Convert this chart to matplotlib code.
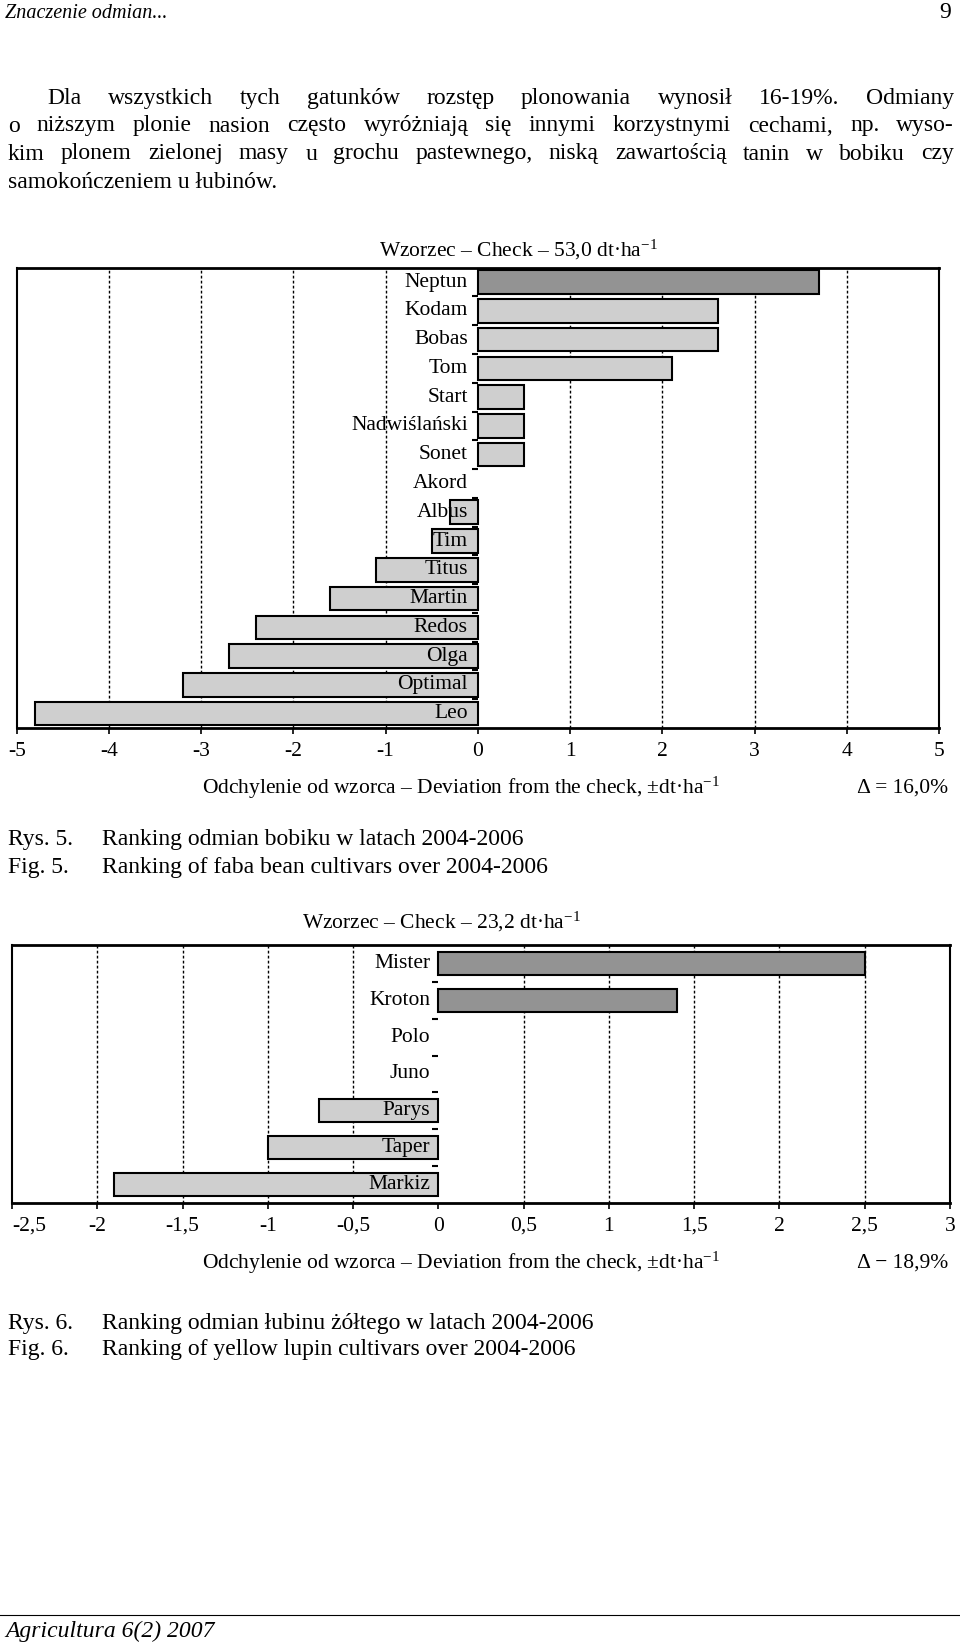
import matplotlib
matplotlib.use('Agg')
import matplotlib.pyplot as plt
from matplotlib.lines import Line2D

plt.rcParams['font.family'] = ['Liberation Serif', 'DejaVu Serif']
plt.rcParams['mathtext.fontset'] = 'custom'
plt.rcParams['mathtext.rm'] = 'Liberation Serif'
plt.rcParams['mathtext.it'] = 'Liberation Serif:italic'

W, H = 960, 1643

# Fig. 5 - faba bean, deviation from the check (dt/ha)
bean_names = ['Neptun', 'Kodam', 'Bobas', 'Tom', 'Start', 'Nadwiślański', 'Sonet',
              'Akord', 'Albus', 'Tim', 'Titus', 'Martin', 'Redos', 'Olga',
              'Optimal', 'Leo']
bean_dev = [3.7, 2.6, 2.6, 2.1, 0.5, 0.5, 0.5, 0.0, -0.3, -0.5, -1.1, -1.6,
            -2.4, -2.7, -3.2, -4.8]
bean_dark = ['Neptun']
bean_ticks = [-5, -4, -3, -2, -1, 0, 1, 2, 3, 4, 5]
bean_tick_labels = ['-5', '-4', '-3', '-2', '-1', '0', '1', '2', '3', '4', '5']

# Fig. 6 - yellow lupin
lupin_names = ['Mister', 'Kroton', 'Polo', 'Juno', 'Parys', 'Taper', 'Markiz']
lupin_dev = [2.5, 1.4, 0.0, 0.0, -0.7, -1.0, -1.9]
lupin_dark = ['Mister', 'Kroton']
lupin_ticks = [-2.5, -2, -1.5, -1, -0.5, 0, 0.5, 1, 1.5, 2, 2.5, 3]
lupin_tick_labels = ['-2,5', '-2', '-1,5', '-1', '-0,5', '0', '0,5', '1',
                     '1,5', '2', '2,5', '3']

DARK = '#939393'
LIGHT = '#cfcfcf'
CHART_FS = 15.5
BODY_FS = 17

fig = plt.figure(figsize=(W / 100, H / 100), dpi=100)


def fx(x):
    return x / W


def fy(y):
    return 1 - y / H


def ftext(x, y, s, **kw):
    kw.setdefault('va', 'center')
    return fig.text(fx(x), fy(y), s, **kw)


def ranking(box, names, dev, dark, ticks, labels, bar_h, off, first_left=False):
    x0, y0, x1, y1 = box
    ax = fig.add_axes([fx(x0), fy(y1), (x1 - x0) / W, (y1 - y0) / H])
    pos = list(range(len(names)))
    colors = [DARK if n in dark else LIGHT for n in names]
    lws = [1.5 if v != 0 else 0 for v in dev]
    ax.barh(pos, dev, height=bar_h, color=colors, edgecolor='black',
            linewidth=lws, zorder=2)
    for t in ticks[1:-1]:
        if t != 0:
            ax.axvline(t, color='black', lw=1.0, ls=(0, (2, 1.6)), zorder=1)
    for i, n in enumerate(names):
        ax.annotate(n, (0, i), xytext=(-off, 0), textcoords='offset pixels',
                    ha='right', va='center', fontsize=CHART_FS, zorder=3)
    ax.set_xlim(ticks[0], ticks[-1])
    ax.set_ylim(len(names) - 0.5, -0.5)
    ax.set_xticks(ticks, labels)
    ax.set_yticks([i + 0.5 for i in range(len(names) - 1)], [])
    ax.spines['left'].set_position(('data', 0))
    ax.spines['left'].set_visible(False)
    ax.spines['top'].set_linewidth(2.0)
    ax.spines['bottom'].set_linewidth(2.0)
    ax.spines['right'].set_linewidth(1.5)
    ax.add_line(Line2D([0, 0], [0, 1], transform=ax.transAxes, color='black',
                       lw=1.5, clip_on=False))
    ax.tick_params(axis='x', direction='out', length=4, width=1.2,
                   labelsize=CHART_FS, pad=6)
    ax.tick_params(axis='y', direction='out', length=4, width=1.5)
    if first_left:
        # the leftmost label sits inside the page edge, as in the print
        ax.get_xticklabels()[0].set_horizontalalignment('left')
    return ax


# header
ftext(5, 13, 'Znaczenie odmian...', fontsize=14.5, style='italic', ha='left')
ftext(951, 13, '9', fontsize=BODY_FS, ha='right')

# justified body text
body = [
    ('Dla wszystkich tych gatunków rozstęp plonowania wynosił 16-19%. Odmiany', 47, 98.5, True),
    ('o niższym plonie nasion często wyróżniają się innymi korzystnymi cechami, np. wyso-', 8, 126, True),
    ('kim plonem zielonej masy u grochu pastewnego, niską zawartością tanin w bobiku czy', 8, 154, True),
    ('samokończeniem u łubinów.', 8, 182, False),
]
renderer = fig.canvas.get_renderer()
right_edge = 954
for line, x, y, just in body:
    if not just:
        ftext(x, y, line, fontsize=BODY_FS, ha='left')
        continue
    words = line.split(' ')
    items = [ftext(0, y, w, fontsize=BODY_FS, ha='left') for w in words]
    widths = [t.get_window_extent(renderer).width for t in items]
    gap = (right_edge - x - sum(widths)) / (len(words) - 1)
    cx = x
    for t, w in zip(items, widths):
        t.set_x(fx(cx))
        cx += w + gap

# Fig. 5
ranking((16.7, 267.7, 939, 728), bean_names, bean_dev, bean_dark,
        bean_ticks, bean_tick_labels, 0.82, 10)
ftext(379, 249.5, r'Wzorzec – Check – 53,0 dt·ha$^{-1}$', fontsize=CHART_FS, ha='left')
ftext(202, 788, r'Odchylenie od wzorca – Deviation from the check, ±dt·ha$^{-1}$',
      fontsize=CHART_FS, ha='left')
ftext(948, 788, 'Δ = 16,0%', fontsize=CHART_FS, ha='right')
ftext(8, 839, 'Rys. 5.', fontsize=BODY_FS, ha='left')
ftext(102, 839, 'Ranking odmian bobiku w latach 2004-2006', fontsize=BODY_FS, ha='left')
ftext(8, 868, 'Fig. 5.', fontsize=BODY_FS, ha='left')
ftext(102, 868, 'Ranking of faba bean cultivars over 2004-2006', fontsize=BODY_FS, ha='left')

# Fig. 6
ranking((12, 945, 950, 1203), lupin_names, lupin_dev, lupin_dark,
        lupin_ticks, lupin_tick_labels, 0.63, 8, first_left=True)
ftext(302, 922, r'Wzorzec – Check – 23,2 dt·ha$^{-1}$', fontsize=CHART_FS, ha='left')
ftext(202, 1263, r'Odchylenie od wzorca – Deviation from the check, ±dt·ha$^{-1}$',
      fontsize=CHART_FS, ha='left')
ftext(948, 1263, 'Δ − 18,9%', fontsize=CHART_FS, ha='right')
ftext(8, 1323, 'Rys. 6.', fontsize=BODY_FS, ha='left')
ftext(102, 1323, 'Ranking odmian łubinu żółtego w latach 2004-2006', fontsize=BODY_FS, ha='left')
ftext(8, 1350, 'Fig. 6.', fontsize=BODY_FS, ha='left')
ftext(102, 1350, 'Ranking of yellow lupin cultivars over 2004-2006', fontsize=BODY_FS, ha='left')

# footer
fig.add_artist(Line2D([0, 1], [fy(1615), fy(1615)], color='black', lw=0.8))
ftext(5, 1631, 'Agricultura 6(2) 2007', fontsize=BODY_FS, style='italic', ha='left')

fig.savefig('out.png', dpi=100)
